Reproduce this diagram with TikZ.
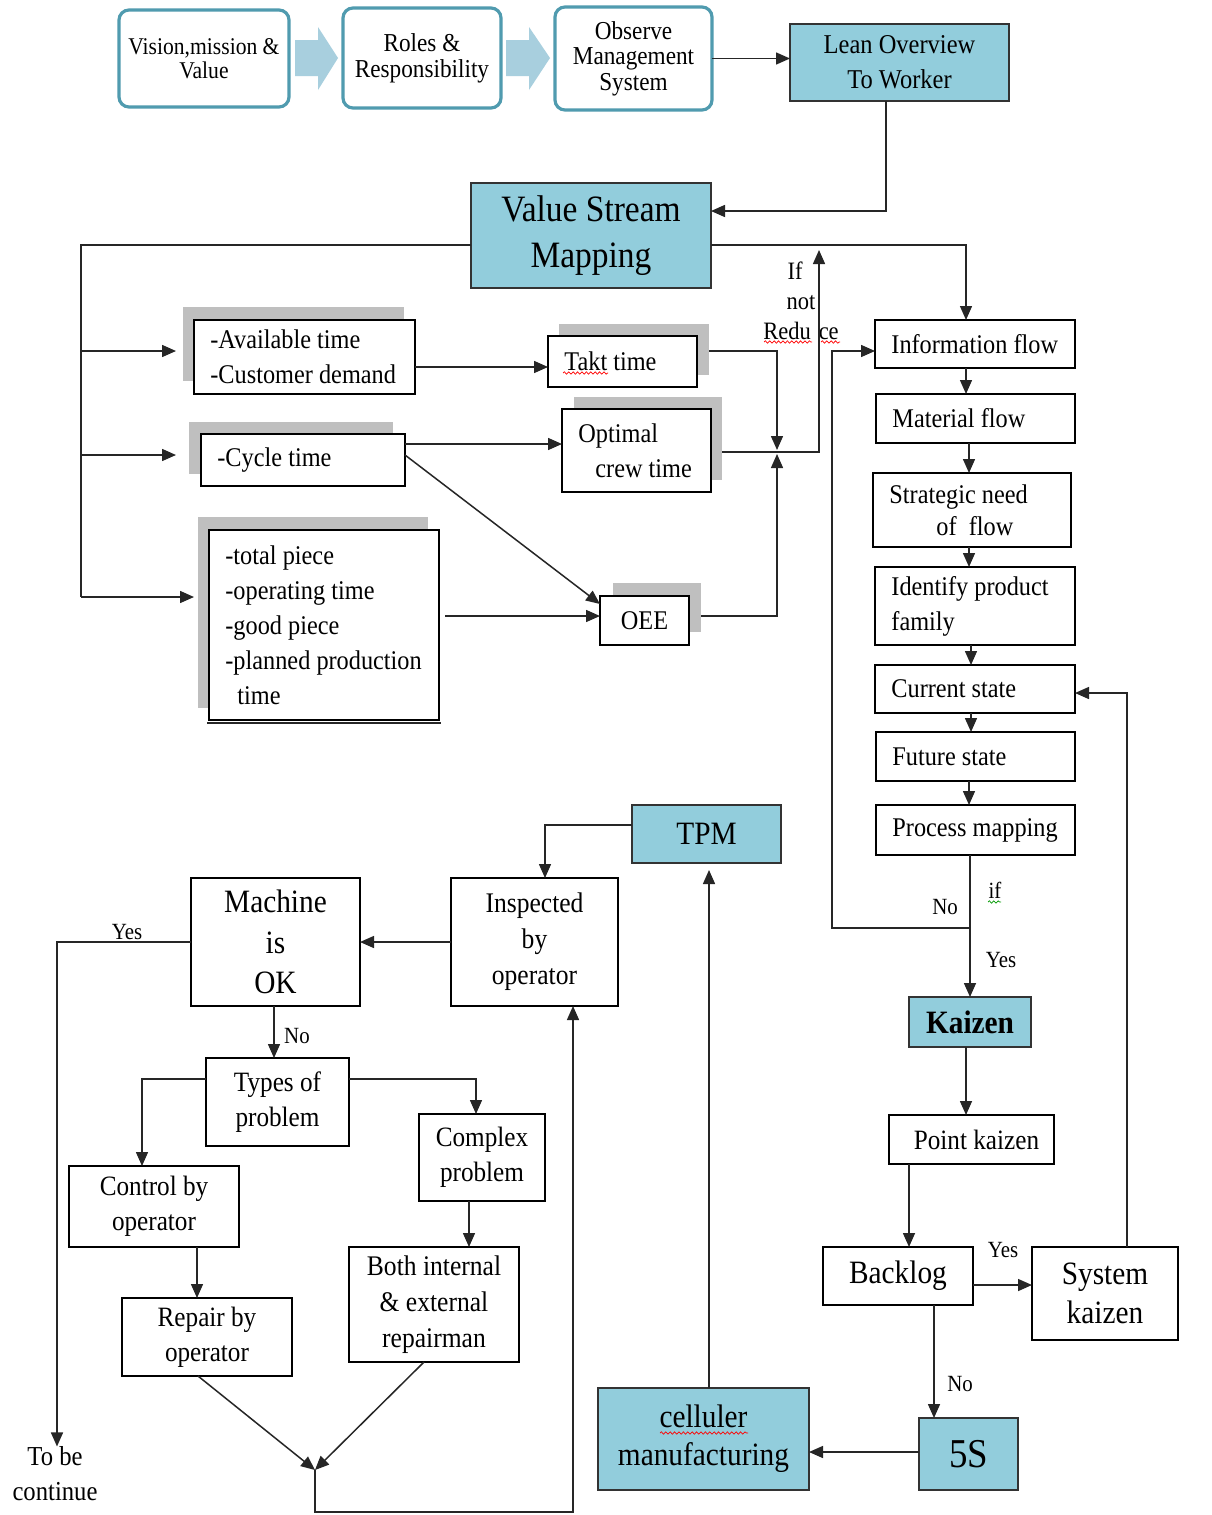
\documentclass[tikz,border=0pt]{standalone}
\usepackage{fontspec}
\setmainfont{Liberation Serif}[FakeStretch=0.9]
\usetikzlibrary{arrows.meta,decorations.pathmorphing,calc}
\definecolor{vblue}{RGB}{146,205,220}
\definecolor{tealb}{RGB}{80,155,175}
\definecolor{chev}{RGB}{168,207,222}
\definecolor{shad}{RGB}{191,191,191}
\newcommand\fs[2]{\fontsize{#1}{#2}\selectfont}
\tikzset{
 box/.style={draw=black, line width=0.75pt, fill=white, inner sep=1pt, outer sep=0pt, align=center, font=\fs{13.5}{17.5}},
 bluebox/.style={box, fill=vblue, draw=black!80},
 topbox/.style={draw=tealb, line width=1.6pt, rounded corners=5pt, fill=white, inner sep=1pt, outer sep=0pt, align=center},
 txt/.style={inner sep=0pt, align=left, font=\fs{13.5}{17.5}},
 lbl/.style={inner sep=0pt, font=\fs{11.6}{14}},
 arr/.style={draw=black!85, line width=0.75pt, -{Triangle[length=7pt,width=6pt]}},
 ln/.style={draw=black!85, line width=0.75pt},
 sh/.style={fill=shad, draw=none, inner sep=0pt, outer sep=0pt},
 wavy/.style={draw=red, line width=0.35pt, decorate, decoration={snake, amplitude=0.6pt, segment length=2.2pt}},
}
\newcommand\bx[7][]{\node[box,#1,minimum width={(#5-#3)*0.5pt},minimum height={(#6-#4)*0.5pt}] (#2) at ({(#3+#5)/2},{(#4+#6)/2}) {#7};}
\newcommand\shd[5]{\node[sh,minimum width={(#4-#2)*0.5pt},minimum height={(#5-#3)*0.5pt}] (#1) at ({(#2+#4)/2},{(#3+#5)/2}) {};}
\newcommand\ltx[2]{\node[txt,anchor=west] (#1t) at ([xshift=8pt]#1.west) {#2};}
\begin{document}
\begin{tikzpicture}[x=0.5pt,y=-0.5pt]
\fill[white] (0,0) rectangle (1211,1515);
\useasboundingbox (0,0) rectangle (1211,1515);

% top row
\bx[topbox,font=\fs{12}{12}]{vis}{119}{10}{289}{107}{Vision,mission \&\\Value}
\bx[topbox,font=\fs{12.9}{13}]{roles}{343}{8}{501}{108}{Roles \&\\Responsibility}
\bx[topbox,font=\fs{12.9}{12.75}]{obs}{555}{7}{712}{110}{Observe\\Management\\System}
\fill[chev] (295,40) -- (318,40) -- (318,27) -- (338,58) -- (318,90) -- (318,76) -- (295,76) -- cycle;
\fill[chev] (506,40) -- (529,40) -- (529,27) -- (550,58) -- (529,90) -- (529,76) -- (506,76) -- cycle;
\bx[bluebox,font=\fs{13.6}{17.5}]{lean}{790}{24}{1009}{101}{Lean Overview\\To Worker}
\bx[bluebox,font=\fs{18.6}{23}]{vsm}{471}{183}{711}{288}{Value Stream\\Mapping}

% shadowed boxes
\shd{availsh}{183}{307}{404}{381}
\bx{avail}{194}{320}{415}{394}{}
\ltx{avail}{-Available time\\-Customer demand}
\shd{taktsh}{559}{324}{709}{375}
\bx{takt}{548}{336}{697}{387}{}
\ltx{takt}{Takt time}
\shd{cyclesh}{189}{422}{393}{474}
\bx{cycle}{201}{434}{405}{486}{}
\ltx{cycle}{-Cycle time}
\shd{optsh}{574}{397}{722}{480}
\bx{opt}{562}{409}{711}{492}{}
\ltx{opt}{Optimal\\\hspace*{8.5pt}crew time}
\shd{bigsh}{198}{517}{428}{708}
\bx{big}{209}{530}{439}{720}{}
\ltx{big}{-total piece\\-operating time\\-good piece\\-planned production\\\hspace*{6pt}time}
\draw[ln] ([xshift=-1pt,yshift=-1.6pt]big.south west) -- ([xshift=1pt,yshift=-1.6pt]big.south east);
\shd{oeesh}{613}{583}{701}{632}
\bx{oee}{600}{596}{689}{645}{OEE}

% right column
\bx{info}{875}{320}{1075}{368}{}
\ltx{info}{Information flow}
\bx{mat}{876}{394}{1075}{443}{}
\ltx{mat}{Material flow}
\bx{strat}{873}{473}{1071}{547}{}
\node[txt,anchor=west,font=\fs{13.5}{16}] (stratt) at ([xshift=8pt]strat.west) {Strategic need\\\hspace*{23.5pt}of\ \ flow};
\bx{ident}{875}{567}{1075}{645}{}
\ltx{ident}{Identify product\\family}
\bx{cur}{875}{665}{1075}{713}{}
\ltx{cur}{Current state}
\bx{fut}{876}{732}{1075}{781}{}
\ltx{fut}{Future state}
\bx{proc}{876}{805}{1075}{855}{}
\ltx{proc}{Process mapping}

\bx[bluebox,font=\bfseries\fs{16.3}{18}]{kaizen}{909}{997}{1031}{1047}{Kaizen}
\bx[font=\fs{14}{17.5}]{point}{889}{1115}{1054}{1164}{\hspace*{5pt}Point kaizen}
\bx[font=\fs{16.3}{19.5}]{back}{823}{1247}{973}{1305}{Backlog}
\bx[font=\fs{16.3}{19.5}]{sysk}{1032}{1247}{1178}{1340}{System\\kaizen}
\bx[bluebox,font=\fs{20.5}{24}]{fives}{919}{1418}{1018}{1490}{5S}
\bx[bluebox,font=\fs{16.3}{19}]{cell}{598}{1388}{809}{1490}{celluler\\manufacturing}
\bx[bluebox,font=\fs{16.3}{19}]{tpm}{632}{805}{781}{863}{TPM}

% bottom-left
\bx[font=\fs{14.2}{18}]{insp}{451}{878}{618}{1006}{Inspected\\by\\operator}
\bx[font=\fs{16.3}{20.2}]{mach}{191}{878}{360}{1006}{Machine\\is\\OK}
\bx[font=\fs{14}{17.5}]{types}{206}{1058}{349}{1146}{Types of\\problem}
\bx[font=\fs{14}{17.5}]{ctrl}{69}{1166}{239}{1247}{Control by\\operator}
\bx[font=\fs{14}{17.5}]{rep}{122}{1298}{292}{1376}{Repair by\\operator}
\bx[font=\fs{14}{17.5}]{cplx}{419}{1114}{545}{1201}{Complex\\problem}
\bx[font=\fs{14.2}{18}]{both}{349}{1247}{519}{1362}{Both internal\\\& external\\repairman}
\node[inner sep=0pt,align=center,font=\fs{13.7}{17.5}] (tobe) at (55,1474) {To be\\continue};

% labels
\node[lbl,font=\fs{12.5}{15},align=center] (ifnot) at (801,301) {If\hspace*{6pt}\\not\\Redu\hspace{4pt}ce};
\node[lbl] (lno1) at (945,907) {No};
\node[lbl] (lif) at (995,890) {if};
\node[lbl] (lyes1) at (1001,960) {Yes};
\node[lbl] (lyes2) at (127,932) {Yes};
\node[lbl] (lno2) at (297,1036) {No};
\node[lbl] (lyes3) at (1003,1250) {Yes};
\node[lbl] (lno3) at (960,1384) {No};

% wavy spell marks
\draw[wavy] (563,373) -- (608,373);
\draw[wavy] (764,342) -- (812,342);
\draw[wavy] (821,342) -- (840,342);
\draw[wavy] (660,1433) -- (748,1433);
\draw[wavy,draw=green!60!black] (988,902) -- (1001,902);

% connectors top
\draw[arr] (obs.east) -- (obs.east -| lean.west);
\draw[arr] (lean.south -| 886,0) |- (vsm.east |- 0,211);
\draw[arr] (vsm.east |- 0,245) -| (info.north -| 966,0);
\coordinate (trunk) at (81,245);
\coordinate (trunkb) at (81,597);
\draw[ln] (vsm.west |- trunk) -- (trunk) -- (trunkb);
\draw[arr,shorten >=3.5pt] (trunk |- 0,351) -- (availsh.west |- 0,351);
\draw[arr,shorten >=6.5pt] (trunk |- 0,455) -- (cyclesh.west |- 0,455);
\draw[arr,shorten >=2pt] (trunkb) -- (bigsh.west |- trunkb);

\draw[arr] (avail.east |- 0,367) -- (takt.west |- 0,367);
\draw[arr] (cycle.east |- 0,444) -- (opt.west |- 0,444);
\draw[arr] (cycle.east |- 0,455) -- (oee.west |- 0,604);
\draw[arr,shorten <=3pt] (big.east |- 0,616) -- (oee.west |- 0,616);

\coordinate (jn) at (777,452);
\draw[arr,shorten >=1pt] (taktsh.east |- 0,351) -| (jn);
\draw[arr,shorten >=1pt] (oeesh.east |- 0,616) -| (jn);
\coordinate (redtop) at (819,250);
\draw[arr] (optsh.east |- jn) -| (redtop);

\coordinate (nocorner) at (832,928);
\draw[arr] (proc.south -| kaizen.north) -- (kaizen.north);
\draw[arr] (kaizen.north |- nocorner) -- (nocorner) |- (info.west |- 0,351);

% right column arrows
\draw[arr] (info.south -| 966,0) -- (mat.north -| 966,0);
\draw[arr] (mat.south -| 969,0) -- (strat.north -| 969,0);
\draw[arr] (strat.south -| 969,0) -- (ident.north -| 969,0);
\draw[arr] (ident.south -| 971,0) -- (cur.north -| 971,0);
\draw[arr] (cur.south -| 971,0) -- (fut.north -| 971,0);
\draw[arr] (fut.south -| 969,0) -- (proc.north -| 969,0);
\draw[arr] (sysk.north -| 1127,0) |- (cur.east |- 0,693);
\draw[arr] (kaizen.south -| 966,0) -- (point.north -| 966,0);
\draw[arr] (point.south -| 909,0) -- (back.north -| 909,0);
\draw[arr] (back.east |- 0,1285) -- (sysk.west |- 0,1285);
\draw[arr] (back.south -| 934,0) -- (fives.north -| 934,0);
\draw[arr] (fives.west |- 0,1452) -- (cell.east |- 0,1452);
\draw[arr,shorten >=3.5pt] (cell.north -| 709,0) -- (tpm.south -| 709,0);

% bottom-left arrows
\draw[arr] (tpm.west |- 0,825) -| (insp.north -| 545,0);
\draw[arr] (insp.west |- 0,942) -- (mach.east |- 0,942);
\draw[arr] (mach.west |- 0,942) -| (tobe.north -| 57,0);
\draw[arr] (mach.south -| 274,0) -- (types.north -| 274,0);
\draw[arr] (types.west |- 0,1079) -| (ctrl.north -| 142,0);
\draw[arr] (types.east |- 0,1079) -| (cplx.north -| 476,0);
\draw[arr] (ctrl.south -| 197,0) -- (rep.north -| 197,0);
\draw[arr] (cplx.south -| 469,0) -- (both.north -| 469,0);
\coordinate (merge) at (315,1470);
\draw[arr] (rep.south -| 198,0) -- (merge);
\draw[arr] (both.south -| 424,0) -- (merge);
\draw[arr] (merge) -- (merge |- 0,1512) -| (insp.south -| 573,0);
\end{tikzpicture}
\end{document}
